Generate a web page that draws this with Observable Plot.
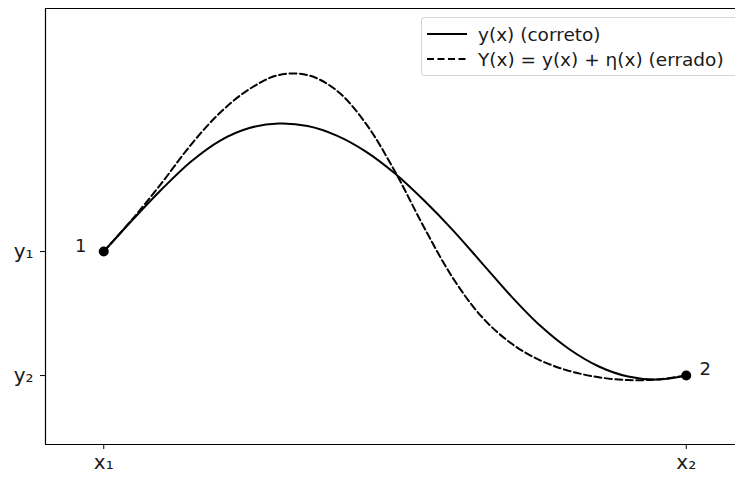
<!DOCTYPE html>
<html><head><meta charset="utf-8">
<script src="https://cdn.jsdelivr.net/npm/d3@7"></script>
<script src="https://cdn.jsdelivr.net/npm/@observablehq/plot@0.6"></script>
<style>
html,body{margin:0;background:#fff;font-family:"DejaVu Sans",sans-serif;overflow:hidden;}
#wrap{position:relative;width:735px;height:477px;overflow:hidden;}
.legend{position:absolute;left:421px;top:17px;width:314px;height:59px;border:1px solid #d6d6d6;border-right:none;border-radius:4px 0 0 4px;background:rgba(255,255,255,0.85);box-sizing:border-box;overflow:hidden;}
.row{position:absolute;left:0;height:24px;display:flex;align-items:center;font-size:18.5px;color:#1a1a1a;white-space:nowrap;}
.row svg{margin-left:5px;margin-right:11px;}
</style></head>
<body>
<div id="wrap"></div>
<script>
// Data
const sampleX = [0, 0.05, 0.10, 0.15, 0.20, 0.25, 0.30, 0.35, 0.40, 0.45, 0.50, 0.55, 0.60, 0.65, 0.70, 0.75, 0.80, 0.85, 0.90, 0.95, 1.00];
const solidY = [1.000, 1.258, 1.504, 1.726, 1.895, 1.996, 2.032, 2.012, 1.935, 1.806, 1.629, 1.411, 1.169, 0.903, 0.637, 0.399, 0.210, 0.073, -0.008, -0.032, 0.000];
const dashedY = [1.000, 1.266, 1.556, 1.863, 2.121, 2.310, 2.423, 2.423, 2.298, 2.032, 1.645, 1.194, 0.782, 0.468, 0.258, 0.121, 0.036, -0.014, -0.036, -0.032, 0.000];
const endX = [0, 1];
const endY = [1, 0];
const endLabels = ["1", "2"];
const xTicks = [0, 1];
const xTickLabels = ["x₁", "x₂"];
const yTicks = [1, 0];
const yTickLabels = ["y₁", "y₂"];
const seriesLabels = ["y(x) (correto)", "Y(x) = y(x) + η(x) (errado)"];
const xDomain = [-0.1, 1.1];
const yDomain = [-0.556, 2.96];

const solid = sampleX.map((x, i) => ({x, y: solidY[i]}));
const dashed = sampleX.map((x, i) => ({x, y: dashedY[i]}));
const ends = endX.map((x, i) => ({x, y: endY[i], label: endLabels[i]}));

const chart = Plot.plot({
  width: 735, height: 477,
  marginLeft: 45, marginTop: 8, marginBottom: 33, marginRight: 0,
  style: {fontFamily: "DejaVu Sans", fontSize: "18px", color: "#111", background: "white"},
  x: {domain: xDomain, range: [45, 744]},
  y: {domain: yDomain, range: [444, 8]},
  marks: [
    Plot.line(solid, {x: "x", y: "y", curve: "catmull-rom", stroke: "black", strokeWidth: 2}),
    Plot.line(dashed, {x: "x", y: "y", curve: "catmull-rom", stroke: "black", strokeWidth: 2, strokeDasharray: "7,3.5"}),
    Plot.dot(ends, {x: "x", y: "y", r: 5, fill: "black", stroke: "none"}),
    Plot.text([ends[0]], {x: "x", y: "y", text: "label", dx: -23, dy: -5, fontSize: 18, fill: "#1a1a1a"}),
    Plot.text([ends[1]], {x: "x", y: "y", text: "label", dx: 19, dy: -6, fontSize: 18, fill: "#1a1a1a"}),
    Plot.ruleX([xDomain[0]], {stroke: "black", strokeWidth: 1.2}),
    Plot.ruleY(yDomain, {stroke: "black", strokeWidth: 1.2}),
    Plot.axisX({ticks: xTicks, tickFormat: d => xTickLabels[xTicks.indexOf(d)], tickSize: 5, tickPadding: 5, fontSize: 20, label: null, stroke: "black", fill: "#1a1a1a"}),
    Plot.axisY({ticks: yTicks, tickFormat: d => yTickLabels[yTicks.indexOf(d)], tickSize: 5, tickPadding: 7, fontSize: 20, label: null, stroke: "black", fill: "#1a1a1a"})
  ]
});
document.getElementById("wrap").appendChild(chart);

// Legend overlay (placed inside the axes, top right)
const leg = document.createElement("div");
leg.className = "legend";
const dashes = [null, "7,3.5"];
seriesLabels.forEach((lab, i) => {
  const row = document.createElement("div");
  row.className = "row";
  row.style.top = (4 + i * 25) + "px";
  row.innerHTML = `<svg width="40" height="10"><line x1="0" x2="40" y1="5" y2="5" stroke="black" stroke-width="2" ${dashes[i] ? `stroke-dasharray="${dashes[i]}"` : ""}/></svg><span>${lab}</span>`;
  leg.appendChild(row);
});
document.getElementById("wrap").appendChild(leg);
</script>
</body></html>
